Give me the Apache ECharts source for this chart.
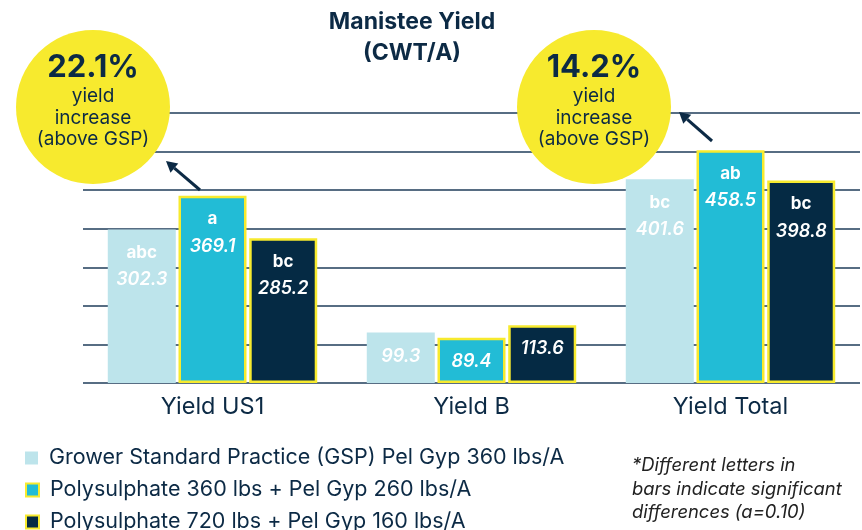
<!DOCTYPE html>
<html>
<head>
<meta charset="utf-8">
<script src="https://cdn.jsdelivr.net/npm/echarts@6/dist/echarts.min.js"></script>
<style>
  html, body { margin: 0; padding: 0; background: #fff; }
  #chart { width: 862px; height: 530px; }
</style>
</head>
<body>
<div id="chart"></div>
<script>
  // categories and series
  var categories = ['Yield US1', 'Yield B', 'Yield Total'];
  var seriesNames = [
    'Grower Standard Practice (GSP) Pel Gyp 360 lbs/A',
    'Polysulphate 360 lbs + Pel Gyp 260 lbs/A',
    'Polysulphate 720 lbs + Pel Gyp 160 lbs/A'
  ];
  var gspValues = [302.3, 99.3, 401.6];
  var poly360Values = [369.1, 89.4, 458.5];
  var poly720Values = [285.2, 113.6, 398.8];
  // significance letters (empty = none)
  var gspLetters = ['abc', '', 'bc'];
  var poly360Letters = ['a', '', 'ab'];
  var poly720Letters = ['bc', '', 'bc'];

  var navy = '#0c2a45';
  var yellow = '#f7ea2e';
  var colors = ['#bde4eb', '#22bcd6', '#052a44'];

  var font = 'Inter, "Noto Sans", sans-serif';

  function makeSeries(name, values, letters, color, bordered) {
    return {
      name: name,
      type: 'bar',
      barWidth: 68,
      barGap: '4%',
      data: values,
      itemStyle: {
        color: color,
        borderColor: bordered ? yellow : color,
        borderWidth: bordered ? 2.5 : 0
      },
      label: {
        show: true,
        position: 'insideTop',
        distance: 10,
        formatter: function (p) {
          var l = letters[p.dataIndex];
          return (l ? '{l|' + l + '}\n' : '') + '{v|' + p.value + '}';
        },
        rich: {
          l: { color: '#fff', fontFamily: font, fontWeight: 'bold', fontSize: 17, lineHeight: 27 },
          v: { color: '#fff', fontFamily: font, fontWeight: 600, fontStyle: 'italic', fontSize: 18, lineHeight: 27 }
        }
      }
    };
  }

  // arrow helper for annotations
  function arrow(x1, y1, x2, y2) {
    var a = Math.atan2(y2 - y1, x2 - x1);
    var h = 11, w = 6;
    var bx = x2 - h * Math.cos(a), by = y2 - h * Math.sin(a);
    return [
      { type: 'line', z: 20, shape: { x1: x1, y1: y1, x2: bx, y2: by }, style: { stroke: navy, lineWidth: 3 } },
      { type: 'polygon', z: 20, shape: { points: [
        [x2, y2],
        [bx + w * Math.sin(a), by - w * Math.cos(a)],
        [bx - w * Math.sin(a), by + w * Math.cos(a)]
      ] }, style: { fill: navy } }
    ];
  }

  function bubble(cx, cy, pct) {
    return [
      { type: 'circle', z: 10, shape: { cx: cx, cy: cy, r: 77 }, style: { fill: yellow } },
      { type: 'text', z: 11, x: cx, y: cy - 39, style: { text: pct, fill: navy, font: 'bold 31px ' + font, textAlign: 'center', textVerticalAlign: 'middle' } },
      { type: 'text', z: 11, x: cx, y: cy - 21, style: { text: 'yield\nincrease\n(above GSP)', fill: navy, font: '19px ' + font, lineHeight: 21.5, textAlign: 'center', textVerticalAlign: 'top' } }
    ];
  }

  function legendFor(i, top) {
    return {
      orient: 'vertical',
      left: 25,
      top: top,
      padding: 0,
      icon: 'rect',
      itemWidth: 13,
      itemHeight: 13,
      selectedMode: false,
      textStyle: { color: navy, fontFamily: font, fontSize: 21.5, padding: [0, 0, 0, 6] },
      data: [seriesNames[i]]
    };
  }

  var chart = echarts.init(document.getElementById('chart'));
  chart.setOption({
    animation: false,
    color: colors,
    grid: { left: 83, right: 2, top: 113, bottom: 147 },
    legend: [legendFor(0, 447), legendFor(1, 479), legendFor(2, 511)],
    xAxis: {
      type: 'category',
      data: categories,
      axisLine: { show: false },
      axisTick: { show: false },
      axisLabel: { color: navy, fontFamily: font, fontSize: 23.5, margin: 12 }
    },
    yAxis: {
      type: 'value',
      min: 0,
      max: 532,
      interval: 76,
      axisLabel: { show: false },
      axisLine: { show: false },
      axisTick: { show: false },
      splitLine: { lineStyle: { color: '#1f3d5a', width: 1.5 } }
    },
    series: [
      makeSeries(seriesNames[0], gspValues, gspLetters, colors[0], false),
      makeSeries(seriesNames[1], poly360Values, poly360Letters, colors[1], true),
      makeSeries(seriesNames[2], poly720Values, poly720Letters, colors[2], true)
    ],
    graphic: [
      { type: 'text', x: 412, y: 37.5, style: { text: 'Manistee Yield\n(CWT/A)', fill: navy, font: 'bold 23px ' + font, lineHeight: 31, textAlign: 'center', textVerticalAlign: 'middle' } },
      { type: 'text', x: 632, y: 454, style: { text: '*Different letters in\nbars indicate significant\ndifferences (a=0.10)', fill: '#222', font: 'italic 18.4px ' + font, lineHeight: 23.5 } }
    ].concat(bubble(93, 107, '22.1%'), bubble(594, 107, '14.2%'),
             arrow(200, 190, 166, 161), arrow(712, 141, 679, 112))
  });
</script>
</body>
</html>
